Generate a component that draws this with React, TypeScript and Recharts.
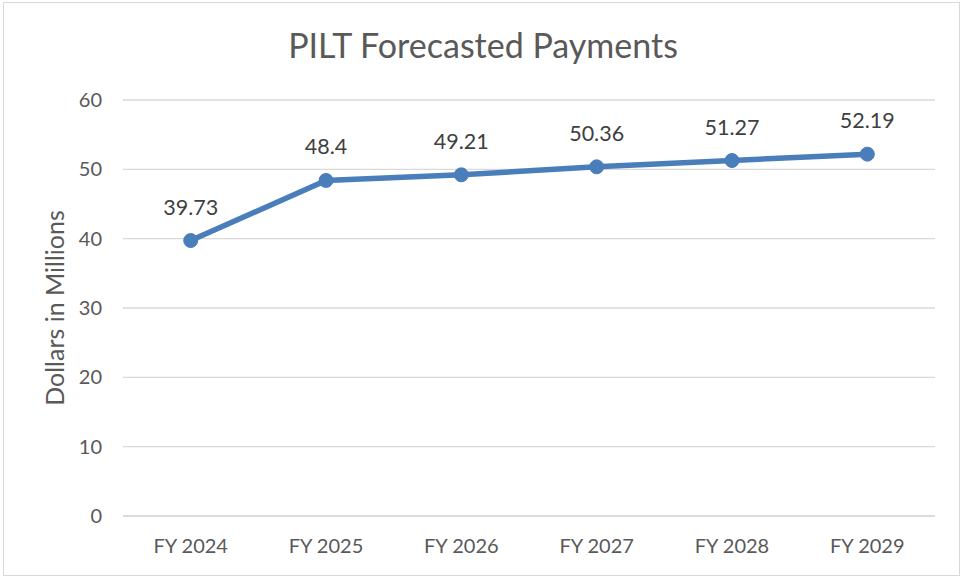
import React from "react";
import { CartesianGrid, LabelList, Line, LineChart, XAxis, YAxis } from "recharts";

const years = ["FY 2024", "FY 2025", "FY 2026", "FY 2027", "FY 2028", "FY 2029"];
const payments = [39.73, 48.4, 49.21, 50.36, 51.27, 52.19];
const yTicks = [0, 10, 20, 30, 40, 50, 60];

const data = years.map((year, i) => ({ year, payment: payments[i] }));

const FONT = "Lato, 'Noto Sans', sans-serif";

const App: React.FC = () => {
  return (
    <div
      style={{
        position: "absolute",
        left: 0,
        top: 0,
        width: 961,
        height: 577,
        background: "#fff",
        fontFamily: FONT,
      }}
    >
      <div
        style={{
          position: "absolute",
          left: 3,
          top: 2,
          width: 955,
          height: 572,
          border: "1px solid #d9d9d9",
        }}
      />
      <div
        style={{
          position: "absolute",
          left: 0,
          top: 24,
          width: 966,
          textAlign: "center",
          fontSize: 34,
          color: "#595959",
          lineHeight: "42px",
        }}
      >
        PILT Forecasted Payments
      </div>
      <LineChart
        width={961}
        height={577}
        data={data}
        margin={{ top: 100, right: 26, bottom: 31, left: 43 }}
        style={{ position: "absolute", left: 0, top: 0 }}
      >
        <CartesianGrid vertical={false} stroke="#d9d9d9" strokeWidth={1.3} />
        <XAxis
          dataKey="year"
          height={30}
          padding={{ left: 67.7, right: 67.7 }}
          axisLine={{ stroke: "#d9d9d9", strokeWidth: 1.3 }}
          tickLine={false}
          tickSize={0}
          tickMargin={23}
          tick={{ fill: "#595959", fontSize: 20, fontFamily: FONT }}
        />
        <YAxis
          width={80}
          domain={[0, 60]}
          ticks={yTicks}
          axisLine={false}
          tickLine={false}
          tickSize={0}
          tickMargin={21}
          tick={{ fill: "#595959", fontSize: 20, fontFamily: FONT }}
          label={{
            value: "Dollars in Millions",
            angle: -90,
            position: "insideLeft",
            offset: 12,
            style: { textAnchor: "middle", fill: "#595959", fontSize: 25, fontFamily: FONT },
          }}
        />
        <Line
          dataKey="payment"
          stroke="#4a7ebb"
          strokeWidth={5.5}
          dot={{ r: 7, fill: "#4a7ebb", stroke: "#4a7ebb", strokeWidth: 1 }}
          isAnimationActive={false}
        >
          <LabelList
            dataKey="payment"
            position="top"
            offset={26}
            style={{ fill: "#404040", fontSize: 21.5, fontFamily: FONT }}
          />
        </Line>
      </LineChart>
    </div>
  );
};

export default App;
